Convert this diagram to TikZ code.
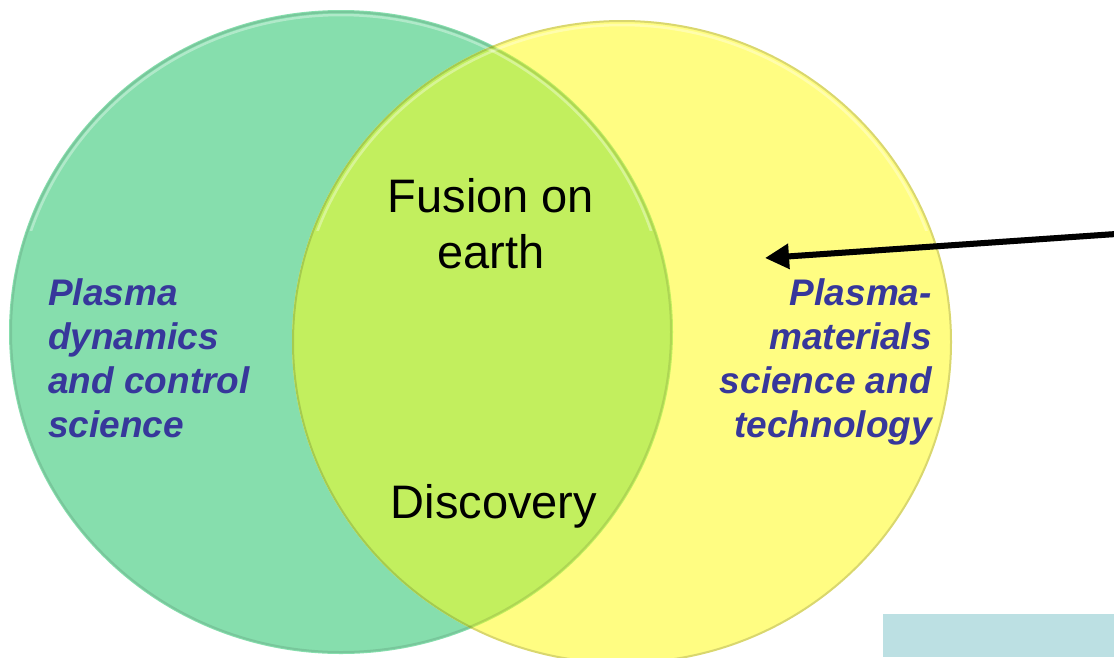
\documentclass[tikz,border=0pt]{standalone}
\usepackage{fontspec}
\setmainfont{Liberation Sans}
\usetikzlibrary{arrows.meta}
\definecolor{cgreen}{HTML}{86DEAD}
\definecolor{cyellow}{HTML}{FFFD82}
\definecolor{clime}{HTML}{C2EF5E}
\definecolor{cblue}{HTML}{37379B}
\definecolor{cbox}{HTML}{BCE0E3}
\tikzset{
  bigtxt/.style={font=\fontsize{47}{56}\selectfont, text=black, inner sep=0pt, anchor=base},
  sidetxt/.style={font=\fontsize{37}{44}\selectfont\bfseries\itshape, text=cblue, inner sep=0pt},
  pointer/.style={line width=6pt, -{Triangle[length=24pt,width=24pt]}, black},
}
\begin{document}
\begin{tikzpicture}[x=1pt,y=-1pt]
\useasboundingbox (0,0) rectangle (1114,657);
\clip (0,0) rectangle (1114,657);
\fill[white] (0,0) rectangle (1114,657);
% circles
\fill[cgreen] (341,332) ellipse [x radius=332, y radius=322];
\fill[cyellow] (622,342) ellipse [x radius=330, y radius=322];
\begin{scope}
  \clip (341,332) ellipse [x radius=332, y radius=322];
  \fill[clime] (622,342) ellipse [x radius=330, y radius=322];
\end{scope}
% rims: highlight on top, shadow on bottom
\begin{scope}
  \clip (0,0) rectangle (1114,230);
  \draw[white, opacity=0.35, line width=2.5pt] (341,332) ellipse [x radius=327, y radius=317];
  \draw[white, opacity=0.35, line width=2.5pt] (622,342) ellipse [x radius=325, y radius=317];
\end{scope}
\draw[black, opacity=0.10, line width=2pt] (341,332) ellipse [x radius=330, y radius=320];
\draw[black, opacity=0.15, line width=2pt] (622,342) ellipse [x radius=329, y radius=321];
% box at bottom right
\fill[cbox] (883,614) rectangle (1114,657);
% centre texts
\node[bigtxt] (fusion) at (491,212) {Fusion on};
\node[bigtxt] (earth) at (491,268) {earth};
\node[bigtxt] (disc) at (494,518) {Discovery};
% left texts
\node[sidetxt, anchor=base west] (l1) at (48,305) {Plasma};
\node[sidetxt, anchor=base west] (l2) at (48,349) {dynamics};
\node[sidetxt, anchor=base west] (l3) at (48,393) {and control};
\node[sidetxt, anchor=base west] (l4) at (48,437) {science};
% right texts
\node[sidetxt, anchor=base east] (r1) at (932,305) {Plasma-};
\node[sidetxt, anchor=base east] (r2) at (932,349) {materials};
\node[sidetxt, anchor=base east] (r3) at (932,393) {science and};
\node[sidetxt, anchor=base east] (r4) at (932,437) {technology};
% arrow
\coordinate (astart) at (1116,234);
\coordinate (atip) at (765,258);
\draw[pointer, black!40, opacity=0.5, shift={(2,3)}] (astart) -- (atip);
\draw[pointer] (astart) -- (atip);
\end{tikzpicture}
\end{document}
